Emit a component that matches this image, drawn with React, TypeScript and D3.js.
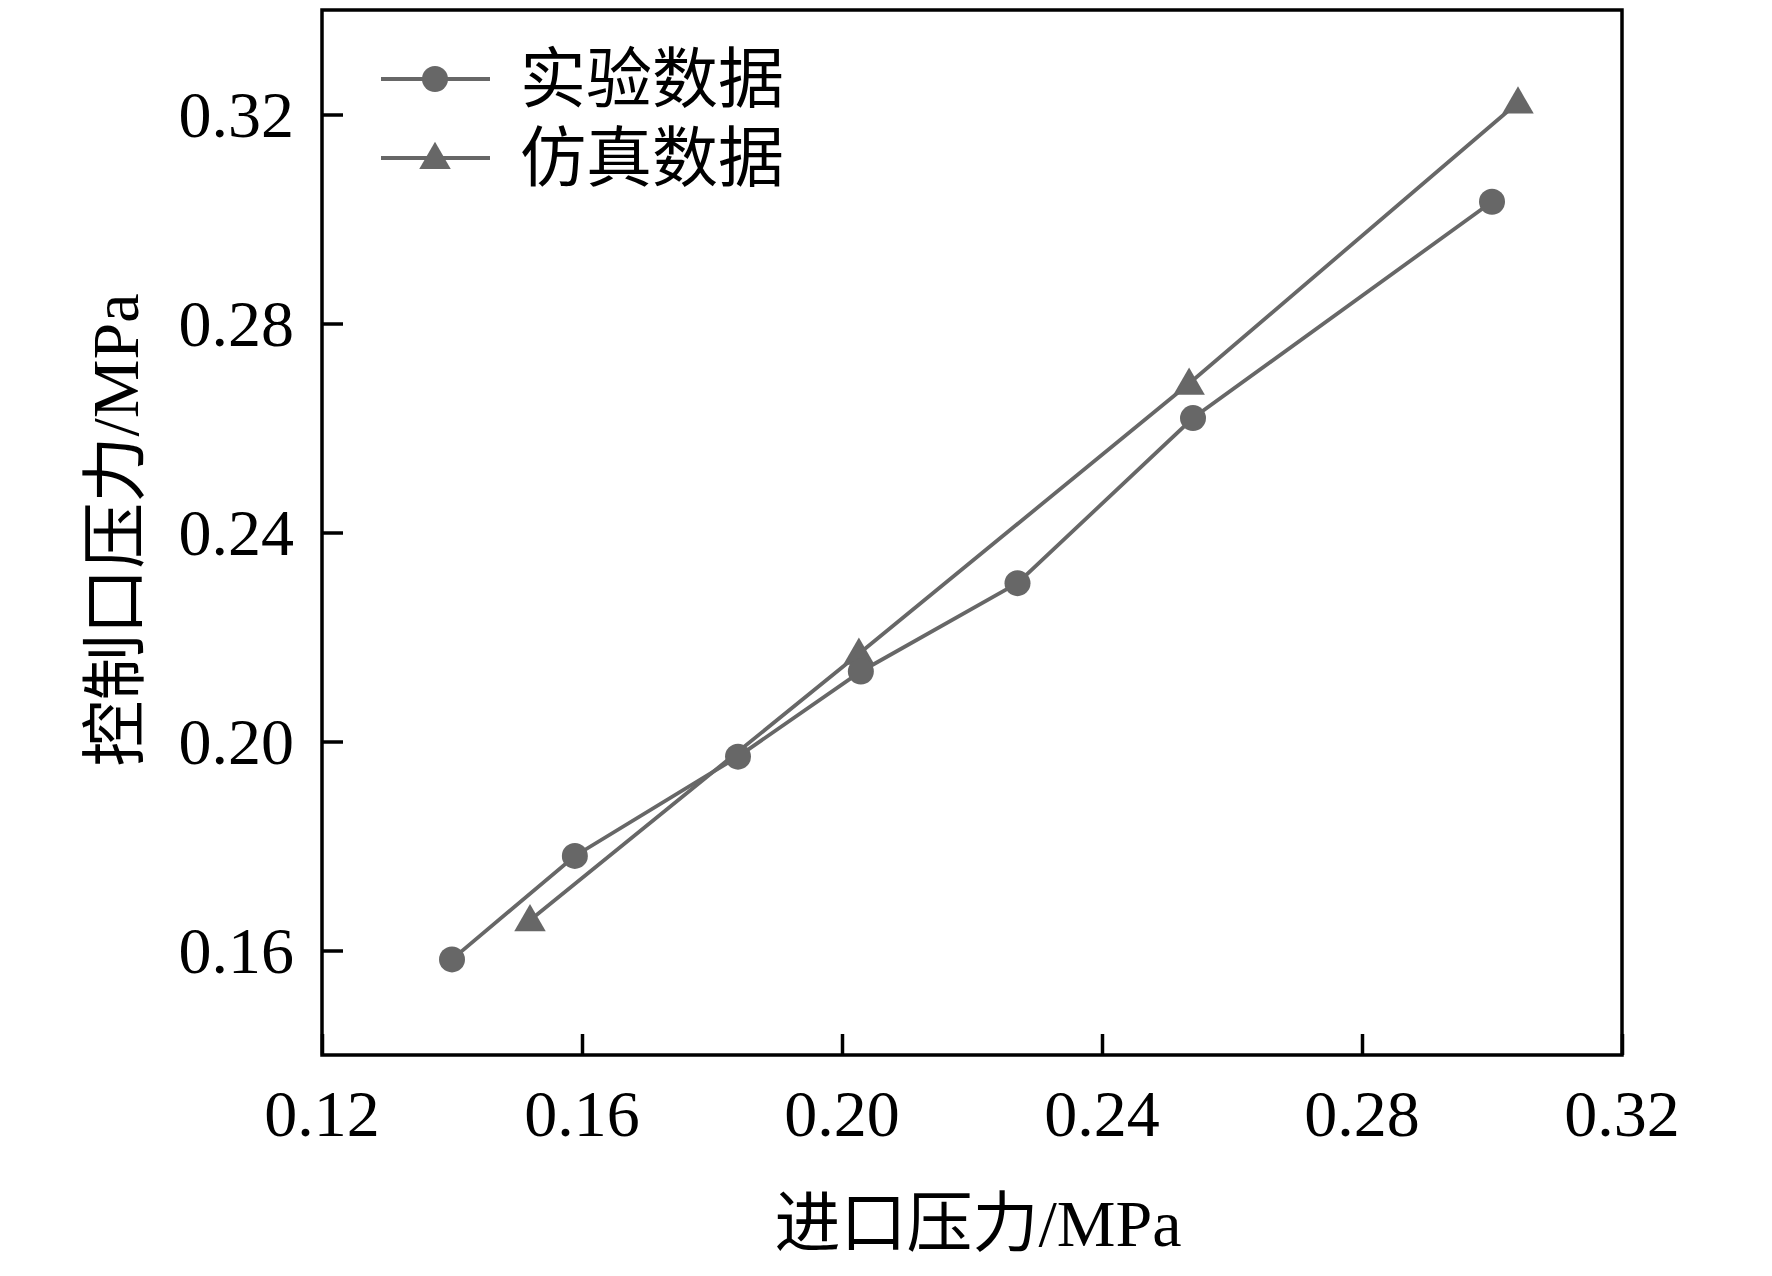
import { useEffect, useRef } from "react";
import * as d3 from "d3";

// experimental data (circles)
const expX = [0.14, 0.1589, 0.184, 0.2029, 0.227, 0.254, 0.3];
const expY = [0.1583, 0.1781, 0.1971, 0.2134, 0.2303, 0.2619, 0.3033];
// simulation data (triangles)
const simX = [0.152, 0.2026, 0.2534, 0.304];
const simY = [0.1658, 0.2168, 0.2685, 0.3223];

const xTicks = [0.12, 0.16, 0.2, 0.24, 0.28, 0.32];
const yTicks = [0.16, 0.2, 0.24, 0.28, 0.32];
const seriesNames = ["实验数据", "仿真数据"];
const xTitle = "进口压力/MPa";
const yTitle = "控制口压力/MPa";

const App = () => {
  const svgRef = useRef<SVGSVGElement | null>(null);

  useEffect(() => {
    if (!svgRef.current) return;
    const W = 1772;
    const H = 1276;
    const margin = { top: 10, right: 150, bottom: 221, left: 322 };
    const font = "'Liberation Serif', 'Times New Roman', 'Noto Sans CJK SC', serif";
    const grey = "#676767";
    const lw = 3.8;

    const svg = d3.select(svgRef.current).attr("width", W).attr("height", H);
    svg.selectAll("*").remove();

    const x = d3.scaleLinear().domain([0.12, 0.32]).range([margin.left, W - margin.right]);
    const y = d3.scaleLinear().domain([0.14, 0.34]).range([H - margin.bottom, margin.top]);

    // frame
    svg
      .append("rect")
      .attr("x", x(0.12))
      .attr("y", y(0.34))
      .attr("width", x(0.32) - x(0.12))
      .attr("height", y(0.14) - y(0.34))
      .attr("fill", "none")
      .attr("stroke", "#000")
      .attr("stroke-width", 3.5);

    // x axis (ticks inside)
    const xAxis = svg
      .append("g")
      .attr("transform", `translate(0,${y(0.14)})`)
      .call(
        d3
          .axisBottom(x)
          .tickValues(xTicks)
          .tickSize(-21)
          .tickPadding(0)
          .tickFormat(() => "")
      );
    xAxis.select(".domain").remove();
    xAxis.selectAll(".tick line").attr("stroke", "#000").attr("stroke-width", 3.5);

    svg
      .append("g")
      .selectAll("text")
      .data(xTicks)
      .enter()
      .append("text")
      .attr("x", (d) => x(d))
      .attr("y", 1136)
      .attr("text-anchor", "middle")
      .attr("font-family", font)
      .attr("font-size", 66)
      .text((d) => d3.format(".2f")(d));

    // y axis (ticks inside)
    const yAxis = svg
      .append("g")
      .attr("transform", `translate(${x(0.12)},0)`)
      .call(
        d3
          .axisLeft(y)
          .tickValues(yTicks)
          .tickSize(-21)
          .tickFormat(() => "")
      );
    yAxis.select(".domain").remove();
    yAxis.selectAll(".tick line").attr("stroke", "#000").attr("stroke-width", 3.5);

    svg
      .append("g")
      .selectAll("text")
      .data(yTicks)
      .enter()
      .append("text")
      .attr("x", 294)
      .attr("y", (d) => y(d) + 22)
      .attr("text-anchor", "end")
      .attr("font-family", font)
      .attr("font-size", 66)
      .text((d) => d3.format(".2f")(d));

    // axis titles
    svg
      .append("text")
      .attr("x", 978)
      .attr("y", 1246)
      .attr("text-anchor", "middle")
      .attr("font-family", font)
      .attr("font-size", 66)
      .text(xTitle);

    svg
      .append("text")
      .attr("transform", `translate(138,${530}) rotate(-90)`)
      .attr("text-anchor", "middle")
      .attr("font-family", font)
      .attr("font-size", 66)
      .text(yTitle);

    const line = d3
      .line<[number, number]>()
      .x((d) => x(d[0]))
      .y((d) => y(d[1]));

    const simPts = simX.map((v, i) => [v, simY[i]] as [number, number]);
    const expPts = expX.map((v, i) => [v, expY[i]] as [number, number]);

    const tri = d3.symbol().type(d3.symbolTriangle).size(430);

    svg
      .append("path")
      .attr("d", line(simPts))
      .attr("fill", "none")
      .attr("stroke", grey)
      .attr("stroke-width", lw);
    svg
      .append("g")
      .selectAll("path")
      .data(simPts)
      .enter()
      .append("path")
      .attr("d", tri)
      .attr("transform", (d) => `translate(${x(d[0])},${y(d[1]) + 2})`)
      .attr("fill", grey);

    svg
      .append("path")
      .attr("d", line(expPts))
      .attr("fill", "none")
      .attr("stroke", grey)
      .attr("stroke-width", lw);
    svg
      .append("g")
      .selectAll("circle")
      .data(expPts)
      .enter()
      .append("circle")
      .attr("cx", (d) => x(d[0]))
      .attr("cy", (d) => y(d[1]))
      .attr("r", 13)
      .attr("fill", grey);

    // legend
    const legend = svg.append("g");
    seriesNames.forEach((name, i) => {
      const ly = 79 + i * 79;
      legend
        .append("line")
        .attr("x1", 381)
        .attr("x2", 490)
        .attr("y1", ly)
        .attr("y2", ly)
        .attr("stroke", grey)
        .attr("stroke-width", lw);
      if (i === 0) {
        legend.append("circle").attr("cx", 435).attr("cy", ly).attr("r", 13).attr("fill", grey);
      } else {
        legend
          .append("path")
          .attr("d", tri)
          .attr("transform", `translate(435,${ly + 2})`)
          .attr("fill", grey);
      }
      legend
        .append("text")
        .attr("x", 520)
        .attr("y", ly)
        .attr("dominant-baseline", "central")
        .attr("font-family", font)
        .attr("font-size", 66)
        .text(name);
    });
  }, []);

  return <svg ref={svgRef} style={{ position: "absolute", left: 0, top: 0, background: "#fff" }}></svg>;
};

export default App;
